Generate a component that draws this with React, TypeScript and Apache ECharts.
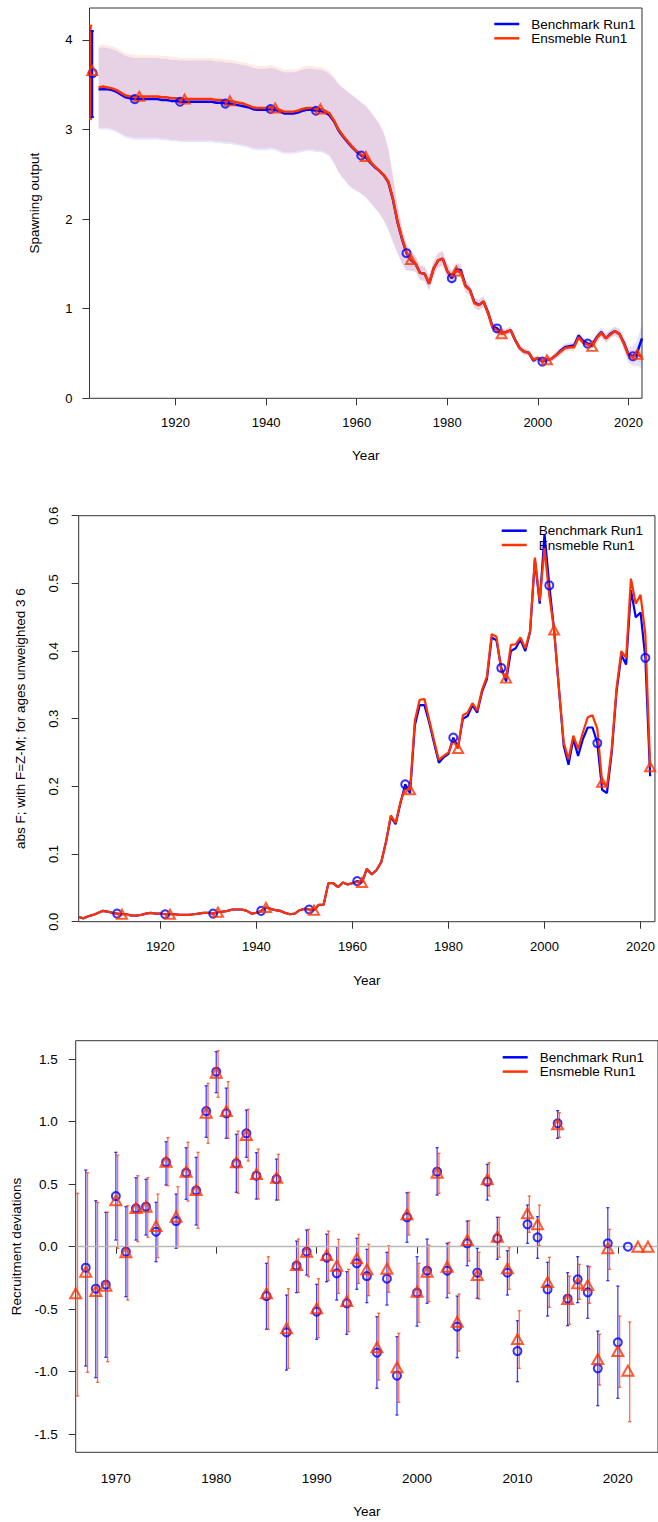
import { useEffect, useRef } from 'react';
import * as echarts from 'echarts';

const FONT = '"Liberation Sans", Arial, Helvetica, sans-serif';
const BLUE = '#0000ff';
const RED = '#ff3300';
const BENCH = 'Benchmark Run1';
const ENS = 'Ensmeble Run1';

const yearRange = (a: number, b: number) => Array.from({ length: b - a + 1 }, (_, i) => a + i);

// ---------- Panel 1: spawning output (1903-2023) ----------
const ssbYears = yearRange(1903, 2023);
const benchSSB = [
  3.45, 3.45, 3.45, 3.44, 3.42, 3.39, 3.36, 3.35, 3.34, 3.34, // 1903-1912
  3.34, 3.34, 3.34, 3.34, 3.33, 3.33, 3.32, 3.32, 3.31, 3.31, // 1913-1922
  3.31, 3.31, 3.31, 3.31, 3.31, 3.31, 3.30, 3.30, 3.29, 3.29, // 1923-1932
  3.28, 3.27, 3.26, 3.25, 3.23, 3.22, 3.22, 3.22, 3.23, 3.22, // 1933-1942
  3.20, 3.18, 3.18, 3.18, 3.19, 3.21, 3.22, 3.22, 3.21, 3.21, // 1943-1952
  3.19, 3.16, 3.09, 2.99, 2.92, 2.86, 2.80, 2.75, 2.71, 2.69, // 1953-1962
  2.63, 2.58, 2.54, 2.49, 2.41, 2.22, 1.97, 1.78, 1.62, 1.54, // 1963-1972
  1.50, 1.40, 1.39, 1.28, 1.45, 1.54, 1.56, 1.42, 1.34, 1.44, // 1973-1982
  1.43, 1.26, 1.21, 1.07, 1.04, 1.08, 0.96, 0.80, 0.78, 0.73, // 1983-1992
  0.74, 0.76, 0.65, 0.56, 0.52, 0.51, 0.42, 0.45, 0.41, 0.43, // 1993-2002
  0.44, 0.48, 0.53, 0.57, 0.58, 0.59, 0.70, 0.64, 0.61, 0.60, // 2003-2012
  0.68, 0.74, 0.67, 0.72, 0.75, 0.72, 0.62, 0.49, 0.47, 0.52, // 2013-2022
  0.67, // 2023
];
const ensSSB = [
  3.47, 3.48, 3.47, 3.46, 3.44, 3.41, 3.38, 3.37, 3.37, 3.37,
  3.37, 3.37, 3.37, 3.37, 3.36, 3.36, 3.35, 3.35, 3.34, 3.34,
  3.34, 3.34, 3.34, 3.34, 3.34, 3.34, 3.33, 3.33, 3.32, 3.32,
  3.31, 3.30, 3.29, 3.27, 3.25, 3.24, 3.24, 3.24, 3.25, 3.24,
  3.22, 3.20, 3.20, 3.20, 3.21, 3.23, 3.24, 3.24, 3.23, 3.23,
  3.21, 3.18, 3.10, 3.00, 2.93, 2.87, 2.81, 2.76, 2.72, 2.70,
  2.64, 2.59, 2.54, 2.49, 2.42, 2.23, 1.98, 1.79, 1.63, 1.55,
  1.50, 1.40, 1.39, 1.28, 1.45, 1.54, 1.56, 1.42, 1.36, 1.42,
  1.41, 1.25, 1.21, 1.06, 1.04, 1.08, 0.95, 0.79, 0.76, 0.72,
  0.74, 0.76, 0.65, 0.56, 0.52, 0.51, 0.43, 0.45, 0.42, 0.43,
  0.44, 0.48, 0.52, 0.56, 0.57, 0.57, 0.68, 0.62, 0.60, 0.58,
  0.67, 0.73, 0.67, 0.71, 0.75, 0.72, 0.61, 0.48, 0.46, 0.49,
  0.46,
];
const benchSSBHi = [
  3.91, 3.92, 3.91, 3.90, 3.88, 3.85, 3.82, 3.81, 3.80, 3.80,
  3.80, 3.80, 3.80, 3.80, 3.79, 3.79, 3.78, 3.78, 3.77, 3.77,
  3.77, 3.77, 3.77, 3.77, 3.77, 3.77, 3.76, 3.76, 3.75, 3.75,
  3.74, 3.73, 3.72, 3.71, 3.69, 3.68, 3.68, 3.68, 3.69, 3.68,
  3.66, 3.64, 3.64, 3.64, 3.65, 3.67, 3.68, 3.68, 3.67, 3.67,
  3.65, 3.62, 3.57, 3.50, 3.46, 3.42, 3.38, 3.34, 3.30, 3.26,
  3.20, 3.13, 3.06, 2.96, 2.78, 2.48, 2.16, 1.90, 1.72, 1.64,
  1.58, 1.48, 1.47, 1.36, 1.53, 1.62, 1.64, 1.50, 1.42, 1.51,
  1.50, 1.33, 1.27, 1.13, 1.10, 1.14, 1.01, 0.85, 0.82, 0.77,
  0.78, 0.80, 0.69, 0.60, 0.56, 0.54, 0.45, 0.48, 0.44, 0.46,
  0.47, 0.52, 0.57, 0.61, 0.62, 0.63, 0.74, 0.68, 0.65, 0.64,
  0.73, 0.79, 0.72, 0.77, 0.80, 0.78, 0.69, 0.58, 0.58, 0.66,
  0.83,
];
const benchSSBLo = [
  3.00, 3.00, 3.00, 2.99, 2.97, 2.94, 2.91, 2.90, 2.89, 2.89,
  2.89, 2.89, 2.89, 2.89, 2.88, 2.88, 2.87, 2.87, 2.86, 2.86,
  2.86, 2.86, 2.86, 2.86, 2.86, 2.86, 2.85, 2.85, 2.84, 2.84,
  2.83, 2.82, 2.81, 2.80, 2.78, 2.77, 2.77, 2.77, 2.78, 2.77,
  2.75, 2.73, 2.73, 2.73, 2.74, 2.75, 2.76, 2.76, 2.75, 2.75,
  2.73, 2.70, 2.62, 2.52, 2.45, 2.39, 2.34, 2.31, 2.28, 2.24,
  2.18, 2.12, 2.06, 1.98, 1.88, 1.74, 1.62, 1.50, 1.42, 1.42,
  1.41, 1.32, 1.31, 1.20, 1.37, 1.46, 1.48, 1.34, 1.26, 1.37,
  1.36, 1.19, 1.15, 1.01, 0.98, 1.02, 0.91, 0.75, 0.74, 0.69,
  0.70, 0.72, 0.61, 0.52, 0.48, 0.48, 0.39, 0.42, 0.38, 0.40,
  0.41, 0.44, 0.49, 0.53, 0.54, 0.55, 0.66, 0.60, 0.57, 0.56,
  0.63, 0.69, 0.62, 0.67, 0.70, 0.66, 0.55, 0.40, 0.36, 0.36,
  0.33,
];
const ensSSBHi = [
  3.94, 3.95, 3.94, 3.93, 3.91, 3.88, 3.85, 3.84, 3.83, 3.83,
  3.83, 3.83, 3.83, 3.83, 3.82, 3.82, 3.81, 3.81, 3.80, 3.80,
  3.80, 3.80, 3.80, 3.80, 3.80, 3.80, 3.79, 3.79, 3.78, 3.78,
  3.77, 3.76, 3.75, 3.74, 3.72, 3.71, 3.71, 3.71, 3.72, 3.71,
  3.69, 3.67, 3.67, 3.67, 3.68, 3.70, 3.71, 3.71, 3.70, 3.70,
  3.68, 3.65, 3.59, 3.52, 3.47, 3.43, 3.39, 3.35, 3.31, 3.27,
  3.21, 3.14, 3.07, 2.97, 2.79, 2.49, 2.17, 1.91, 1.73, 1.65,
  1.59, 1.49, 1.48, 1.37, 1.54, 1.63, 1.65, 1.51, 1.43, 1.50,
  1.49, 1.32, 1.27, 1.12, 1.10, 1.14, 1.00, 0.84, 0.81, 0.76,
  0.78, 0.80, 0.69, 0.60, 0.56, 0.54, 0.46, 0.48, 0.45, 0.46,
  0.47, 0.52, 0.56, 0.60, 0.61, 0.61, 0.72, 0.66, 0.64, 0.62,
  0.72, 0.78, 0.72, 0.76, 0.80, 0.77, 0.67, 0.55, 0.53, 0.56,
  0.53,
];
const ensSSBLo = [
  3.02, 3.02, 3.02, 3.01, 2.99, 2.96, 2.93, 2.92, 2.91, 2.91,
  2.91, 2.91, 2.91, 2.91, 2.90, 2.90, 2.89, 2.89, 2.88, 2.88,
  2.88, 2.88, 2.88, 2.88, 2.88, 2.88, 2.87, 2.87, 2.86, 2.86,
  2.85, 2.84, 2.83, 2.82, 2.80, 2.79, 2.79, 2.79, 2.80, 2.79,
  2.77, 2.75, 2.75, 2.75, 2.76, 2.77, 2.78, 2.78, 2.77, 2.77,
  2.75, 2.72, 2.63, 2.53, 2.46, 2.40, 2.35, 2.32, 2.29, 2.25,
  2.19, 2.13, 2.07, 1.99, 1.89, 1.75, 1.63, 1.51, 1.43, 1.43,
  1.42, 1.32, 1.31, 1.21, 1.37, 1.46, 1.48, 1.34, 1.28, 1.35,
  1.34, 1.18, 1.15, 1.00, 0.98, 1.02, 0.90, 0.74, 0.72, 0.68,
  0.70, 0.72, 0.61, 0.52, 0.48, 0.48, 0.40, 0.42, 0.39, 0.40,
  0.41, 0.44, 0.48, 0.52, 0.53, 0.53, 0.64, 0.58, 0.56, 0.54,
  0.62, 0.68, 0.62, 0.66, 0.70, 0.67, 0.55, 0.41, 0.39, 0.42,
  0.39,
];
// virgin spawning output (bench, ensemble)
const virginYear = 1901.7;
const virginValue = [3.63, 3.66];
const virginLo = [3.14, 3.12];
const virginHi = [4.1, 4.16];

// ---------- Panel 2: fishing mortality (1903-2022) ----------
const fYears = yearRange(1903, 2022);
const benchF = [
  0.007, 0.005, 0.008, 0.010, 0.013, 0.016, 0.015, 0.013, 0.012, 0.011, // 1903-1912
  0.011, 0.009, 0.009, 0.010, 0.012, 0.013, 0.012, 0.012, 0.011, 0.011, // 1913-1922
  0.011, 0.010, 0.010, 0.010, 0.011, 0.012, 0.013, 0.013, 0.012, 0.014, // 1923-1932
  0.015, 0.016, 0.018, 0.018, 0.018, 0.016, 0.012, 0.013, 0.016, 0.021, // 1933-1942
  0.019, 0.017, 0.016, 0.013, 0.011, 0.012, 0.017, 0.019, 0.018, 0.017, // 1943-1952
  0.025, 0.025, 0.057, 0.057, 0.051, 0.058, 0.055, 0.057, 0.060, 0.058, // 1953-1962
  0.078, 0.070, 0.076, 0.088, 0.118, 0.155, 0.144, 0.175, 0.203, 0.190, // 1963-1972
  0.290, 0.320, 0.320, 0.294, 0.264, 0.235, 0.243, 0.248, 0.272, 0.258, // 1973-1982
  0.300, 0.304, 0.320, 0.309, 0.340, 0.358, 0.420, 0.416, 0.375, 0.355, // 1983-1992
  0.400, 0.404, 0.417, 0.400, 0.428, 0.535, 0.470, 0.573, 0.497, 0.431, // 1993-2002
  0.345, 0.260, 0.232, 0.270, 0.245, 0.270, 0.287, 0.287, 0.264, 0.195, // 2003-2012
  0.190, 0.250, 0.340, 0.394, 0.380, 0.490, 0.450, 0.457, 0.390, 0.215, // 2013-2022
];
const ensF = [
  0.007, 0.005, 0.008, 0.010, 0.013, 0.016, 0.015, 0.013, 0.012, 0.011,
  0.011, 0.009, 0.009, 0.010, 0.012, 0.013, 0.012, 0.012, 0.011, 0.011,
  0.011, 0.010, 0.010, 0.010, 0.011, 0.012, 0.013, 0.013, 0.012, 0.014,
  0.015, 0.016, 0.018, 0.018, 0.018, 0.016, 0.012, 0.013, 0.016, 0.021,
  0.019, 0.017, 0.016, 0.013, 0.011, 0.012, 0.017, 0.019, 0.018, 0.017,
  0.025, 0.025, 0.057, 0.057, 0.051, 0.058, 0.055, 0.057, 0.059, 0.058,
  0.078, 0.070, 0.076, 0.088, 0.118, 0.157, 0.146, 0.177, 0.197, 0.195,
  0.297, 0.328, 0.329, 0.298, 0.268, 0.239, 0.245, 0.250, 0.268, 0.256,
  0.305, 0.309, 0.323, 0.312, 0.343, 0.362, 0.425, 0.421, 0.370, 0.360,
  0.409, 0.410, 0.420, 0.404, 0.430, 0.538, 0.474, 0.552, 0.482, 0.431,
  0.345, 0.265, 0.240, 0.275, 0.255, 0.280, 0.302, 0.305, 0.285, 0.206,
  0.200, 0.255, 0.345, 0.400, 0.390, 0.507, 0.470, 0.483, 0.425, 0.229,
];

// marker years along the lines
const benchMarkerYears = [1911, 1921, 1931, 1941, 1951, 1961, 1971, 1981, 1991, 2001, 2011, 2021];
const ensMarkerYears = [1912, 1922, 1932, 1942, 1952, 1962, 1972, 1982, 1992, 2002, 2012, 2022];

// ---------- Panel 3: recruitment deviations (1966-2023) ----------
const recYears = yearRange(1966, 2023);
const benchRec = [
  null, -0.168, -0.336, -0.304, 0.405, -0.040, 0.307, 0.320, 0.120, 0.677, // 1966-1975
  0.205, 0.592, 0.450, 1.085, 1.400, 1.067, 0.667, 0.907, 0.568, -0.395, // 1976-1985
  0.541, -0.685, -0.152, -0.040, -0.520, -0.088, -0.213, -0.453, -0.133, -0.235, // 1986-1995
  -0.848, -0.256, -1.032, 0.235, -0.368, -0.192, 0.600, -0.192, -0.640, 0.027, // 1996-2005
  -0.208, 0.520, 0.067, -0.208, -0.835, 0.179, 0.075, -0.341, 0.987, -0.416, // 2006-2015
  -0.261, -0.365, -0.973, 0.027, -0.765, 0.000, null, null, // 2016-2023
];
const benchRecLo = [
  null, -0.955, -1.048, -0.885, 0.053, -0.400, 0.053, 0.093, -0.120, 0.493,
  -0.013, 0.379, 0.173, 0.875, 1.232, 0.867, 0.435, 0.715, 0.381, -0.661,
  0.373, -0.987, -0.368, -0.227, -0.741, -0.280, -0.427, -0.701, -0.341, -0.448,
  -1.133, -0.467, -1.347, 0.035, -0.635, -0.453, 0.413, -0.408, -0.888, -0.152,
  -0.413, 0.373, -0.101, -0.387, -1.080, 0.027, -0.093, -0.555, 0.867, -0.632,
  -0.448, -0.573, -1.272, -0.272, -1.213, null, null, null,
];
const benchRecHi = [
  null, 0.613, 0.368, 0.275, 0.755, 0.320, 0.552, 0.539, 0.355, 0.840,
  0.421, 0.792, 0.715, 1.288, 1.560, 1.269, 0.899, 1.093, 0.752, -0.133,
  0.701, -0.387, 0.045, 0.133, -0.301, 0.100, 0.000, -0.200, 0.067, -0.021,
  -0.560, -0.045, -0.720, 0.432, -0.080, 0.061, 0.792, 0.027, -0.395, 0.205,
  -0.013, 0.659, 0.235, -0.032, -0.592, 0.333, 0.240, -0.125, 1.088, -0.208,
  -0.080, -0.155, -0.675, 0.312, -0.315, null, null, null,
];
const ensRec = [
  -0.373, -0.200, -0.355, -0.312, 0.371, -0.045, 0.309, 0.320, 0.165, 0.680,
  0.240, 0.600, 0.453, 1.072, 1.392, 1.085, 0.675, 0.893, 0.581, -0.373,
  0.552, -0.653, -0.147, -0.040, -0.493, -0.067, -0.152, -0.435, -0.093, -0.181,
  -0.805, -0.176, -0.965, 0.259, -0.360, -0.200, 0.592, -0.160, -0.600, 0.053,
  -0.227, 0.539, 0.080, -0.173, -0.739, 0.267, 0.179, -0.283, 0.979, -0.419,
  -0.293, -0.307, -0.899, -0.013, -0.835, -0.992, 0.000, 0.000,
];
const ensRecLo = [
  -1.195, -1.005, -1.085, -0.920, -0.013, -0.427, 0.040, 0.075, -0.088, 0.488,
  0.000, 0.365, 0.147, 0.827, 1.195, 0.867, 0.427, 0.685, 0.381, -0.661,
  0.373, -0.973, -0.365, -0.240, -0.728, -0.270, -0.373, -0.680, -0.293, -0.392,
  -1.067, -0.365, -1.245, 0.093, -0.605, -0.440, 0.427, -0.373, -0.835, -0.115,
  -0.419, 0.405, -0.085, -0.341, -0.973, 0.115, 0.008, -0.485, 0.875, -0.621,
  -0.421, -0.453, -1.107, -0.181, -1.125, -1.400, null, null,
];
const ensRecHi = [
  0.427, 0.592, 0.355, 0.275, 0.733, 0.328, 0.568, 0.552, 0.421, 0.872,
  0.480, 0.835, 0.755, 1.307, 1.568, 1.320, 0.925, 1.099, 0.781, -0.080,
  0.739, -0.336, 0.061, 0.139, -0.256, 0.125, 0.059, -0.181, 0.099, 0.019,
  -0.533, 0.008, -0.693, 0.435, -0.133, 0.013, 0.747, 0.035, -0.379, 0.208,
  -0.045, 0.672, 0.235, -0.008, -0.512, 0.405, 0.333, -0.085, 1.072, -0.235,
  -0.141, -0.160, -0.701, 0.139, -0.555, -0.603, null, null,
];

// tick labels
const yearTicks = [1920, 1940, 1960, 1980, 2000, 2020];
const ssbTicks = [0, 1, 2, 3, 4];
const fTicks = [0, 0.1, 0.2, 0.3, 0.4, 0.5, 0.6];
const recYearTicks = [1970, 1980, 1990, 2000, 2010, 2020];
const recTicks = [-1.5, -1.0, -0.5, 0.0, 0.5, 1.0, 1.5];

// ---------- helpers ----------
const TICK = { show: true, length: 7, inside: false, lineStyle: { color: '#333', width: 1 } };
const LABEL = { color: '#000', fontSize: 13, fontFamily: FONT };
const LABEL3 = { color: '#000', fontSize: 13.5, fontFamily: FONT };
const NAME = { color: '#000', fontSize: 13.5, fontFamily: FONT };

function xAxisFor(gridIndex: number, min: number, max: number, ticks: number[], margin: number, nameGap: number, label: any) {
  return {
    gridIndex, type: 'value', min, max,
    axisLine: { show: false }, splitLine: { show: false },
    axisTick: { ...TICK, customValues: ticks },
    axisLabel: { ...label, margin, customValues: ticks, formatter: (v: number) => String(v) },
    name: 'Year', nameLocation: 'middle', nameGap, nameTextStyle: NAME,
  };
}

function ribbonSeries(xi: number, yi: number, yrs: number[], lo: number[], hi: number[], fill: string) {
  return {
    type: 'custom', xAxisIndex: xi, yAxisIndex: yi, silent: true, z: 1,
    data: yrs.map((y, i) => [y, lo[i], hi[i]]),
    encode: { x: 0, y: [1, 2] },
    renderItem: (params: any, api: any) => {
      if (params.dataIndex !== 0) return null;
      const pts: number[][] = [];
      for (let i = 0; i < yrs.length; i++) pts.push(api.coord([yrs[i], hi[i]]));
      for (let i = yrs.length - 1; i >= 0; i--) pts.push(api.coord([yrs[i], lo[i]]));
      return { type: 'polygon', shape: { points: pts }, style: { fill, stroke: 'none' } };
    },
  };
}

function errorBarSeries(name: string, xi: number, yi: number, xs: number[], lo: (number | null)[], hi: (number | null)[], offset: number, color: string, width: number) {
  const data: number[][] = [];
  xs.forEach((x, i) => {
    if (lo[i] != null && hi[i] != null) data.push([x + offset, lo[i] as number, hi[i] as number]);
  });
  return {
    type: 'custom', name, xAxisIndex: xi, yAxisIndex: yi, silent: true, z: 3,
    data, encode: { x: 0, y: [1, 2] },
    renderItem: (_p: any, api: any) => {
      const a = api.coord([api.value(0), api.value(1)]);
      const b = api.coord([api.value(0), api.value(2)]);
      const st = { stroke: color, lineWidth: width };
      const cap = 1.6;
      return {
        type: 'group',
        children: [
          { type: 'line', shape: { x1: a[0], y1: a[1], x2: b[0], y2: b[1] }, style: st },
          { type: 'line', shape: { x1: a[0] - cap, y1: a[1], x2: a[0] + cap, y2: a[1] }, style: st },
          { type: 'line', shape: { x1: b[0] - cap, y1: b[1], x2: b[0] + cap, y2: b[1] }, style: st },
        ],
      };
    },
  };
}

function circles(name: string, xi: number, yi: number, data: (number | null)[][], size: number, width: number) {
  return {
    type: 'scatter', name, xAxisIndex: xi, yAxisIndex: yi, z: 5,
    symbol: 'circle', symbolSize: size,
    itemStyle: { color: 'rgba(255,255,255,0)', borderColor: BLUE, borderWidth: width },
    data: data.filter((d) => d[1] != null),
  };
}
function triangles(name: string, xi: number, yi: number, data: (number | null)[][], size: number[], width: number) {
  return {
    type: 'scatter', name, xAxisIndex: xi, yAxisIndex: yi, z: 6,
    symbol: 'triangle', symbolSize: size,
    itemStyle: { color: 'rgba(255,255,255,0)', borderColor: RED, borderWidth: width },
    data: data.filter((d) => d[1] != null),
  };
}

function legendAt(left: number, top: number) {
  return {
    orient: 'vertical', left, top, padding: 0, itemGap: 0.3,
    icon: 'rect', itemWidth: 25, itemHeight: 2.5, selectedMode: false,
    textStyle: { color: '#000', fontSize: 13.5, fontFamily: FONT, lineHeight: 14, padding: [0, 0, 0, 7] },
    data: [
      { name: BENCH, itemStyle: { color: BLUE } },
      { name: ENS, itemStyle: { color: RED } },
    ],
  };
}

function buildOption() {
  return {
    animation: false,
    backgroundColor: '#fff',
    textStyle: { fontFamily: FONT },
    legend: [legendAt(494.3, 17), legendAt(501.7, 523.7), legendAt(502.7, 1050.3)],
    grid: [
      { left: 89.5, top: 8, width: 552.5, height: 390.3, show: true, borderColor: '#333', borderWidth: 1, backgroundColor: 'transparent' },
      { left: 78.7, top: 515.7, width: 577.3, height: 406, show: true, borderColor: '#333', borderWidth: 1, backgroundColor: 'transparent' },
      { left: 75.7, top: 1040.7, width: 593.3, height: 411.6, show: true, borderColor: '#333', borderWidth: 1, backgroundColor: 'transparent' },
    ],
    xAxis: [
      xAxisFor(0, 1901, 2023, yearTicks, 18, 50, LABEL),
      xAxisFor(1, 1903, 2023, yearTicks, 18.5, 51.5, LABEL),
      xAxisFor(2, 1966, 2024, recYearTicks, 19, 52.5, LABEL3),
    ],
    yAxis: [
      {
        gridIndex: 0, type: 'value', min: 0, max: 4.357,
        axisLine: { show: false }, splitLine: { show: false },
        axisTick: { ...TICK, customValues: ssbTicks },
        axisLabel: { ...LABEL, margin: 17, customValues: ssbTicks, formatter: (v: number) => String(Math.round(v)) },
        name: 'Spawning output', nameLocation: 'middle', nameGap: 48, nameTextStyle: NAME,
      },
      {
        gridIndex: 1, type: 'value', min: 0, max: 0.6,
        axisLine: { show: false }, splitLine: { show: false },
        axisTick: { ...TICK, customValues: fTicks },
        axisLabel: { ...LABEL, margin: 19, rotate: 90, customValues: fTicks, formatter: (v: number) => v.toFixed(1) },
        name: 'abs F; with F=Z-M; for ages unweighted 3 6', nameLocation: 'middle', nameGap: 51, nameTextStyle: NAME,
      },
      {
        gridIndex: 2, type: 'value', min: -1.645, max: 1.648,
        axisLine: { show: false }, splitLine: { show: false },
        axisTick: { ...TICK, customValues: recTicks },
        axisLabel: { ...LABEL3, margin: 18, customValues: recTicks, formatter: (v: number) => v.toFixed(1) },
        name: 'Recruitment deviations', nameLocation: 'middle', nameGap: 52, nameTextStyle: NAME,
      },
    ],
    series: [
      // ---- panel 1 ----
      ribbonSeries(0, 0, ssbYears, benchSSBLo, benchSSBHi, 'rgba(0,0,255,0.1)'),
      ribbonSeries(0, 0, ssbYears, ensSSBLo, ensSSBHi, 'rgba(255,51,0,0.1)'),
      {
        type: 'line', name: BENCH, xAxisIndex: 0, yAxisIndex: 0, z: 4, color: BLUE,
        showSymbol: false, symbol: 'none', lineStyle: { color: BLUE, width: 2.5 },
        data: ssbYears.map((y, i) => [y, benchSSB[i]]),
      },
      {
        type: 'line', name: ENS, xAxisIndex: 0, yAxisIndex: 0, z: 4, color: RED,
        showSymbol: false, symbol: 'none', lineStyle: { color: RED, width: 2.5 },
        data: ssbYears.map((y, i) => [y, ensSSB[i]]),
      },
      errorBarSeries('virgin ens', 0, 0, [virginYear], [virginLo[1]], [virginHi[1]], -0.45, RED, 2),
      errorBarSeries('virgin bench', 0, 0, [virginYear], [virginLo[0]], [virginHi[0]], -0.1, BLUE, 2),
      circles('bench pts 1', 0, 0, [[virginYear, virginValue[0]], ...benchMarkerYears.map((y) => [y, benchSSB[y - 1903]])], 8, 2),
      triangles('ens pts 1', 0, 0, [[virginYear - 0.1, virginValue[1]], ...ensMarkerYears.map((y) => [y, ensSSB[y - 1903]])], [10, 9], 2),

      // ---- panel 2 ----
      {
        type: 'line', name: BENCH, xAxisIndex: 1, yAxisIndex: 1, z: 4, color: BLUE,
        showSymbol: false, symbol: 'none', lineStyle: { color: BLUE, width: 2.2 },
        data: fYears.map((y, i) => [y, benchF[i]]),
      },
      {
        type: 'line', name: ENS, xAxisIndex: 1, yAxisIndex: 1, z: 4, color: RED,
        showSymbol: false, symbol: 'none', lineStyle: { color: RED, width: 2.2 },
        data: fYears.map((y, i) => [y, ensF[i]]),
      },
      circles('bench pts 2', 1, 1, benchMarkerYears.map((y) => [y, benchF[y - 1903]]), 8, 2),
      triangles('ens pts 2', 1, 1, ensMarkerYears.map((y) => [y, ensF[y - 1903]]), [10, 9], 2),

      // ---- panel 3 ----
      {
        ...errorBarSeries('bench bars', 2, 2, recYears, benchRecLo, benchRecHi, 0, 'rgba(0,0,255,0.75)', 1.3),
        markLine: {
          silent: true, symbol: 'none', label: { show: false },
          lineStyle: { color: '#b8b8b8', width: 1.3, type: 'solid' },
          data: [{ yAxis: 0 }],
        },
      },
      errorBarSeries('ens bars', 2, 2, recYears, ensRecLo, ensRecHi, 0.18, 'rgba(255,51,0,0.7)', 1.3),
      circles('bench pts 3', 2, 2, recYears.map((y, i) => [y, benchRec[i]]), 8, 2),
      triangles('ens pts 3', 2, 2, recYears.map((y, i) => [y, ensRec[i]]), [11, 10], 2),
    ],
  };
}

export default function App() {
  const ref = useRef<HTMLDivElement>(null);
  useEffect(() => {
    if (!ref.current) return;
    const chart = echarts.init(ref.current, null, { renderer: 'svg' });
    chart.setOption(buildOption() as any);
    return () => chart.dispose();
  }, []);
  return (
    <div
      ref={ref}
      style={{ position: 'absolute', left: 0, top: 0, width: 658, height: 1522, overflow: 'hidden', background: '#fff' }}
    />
  );
}
